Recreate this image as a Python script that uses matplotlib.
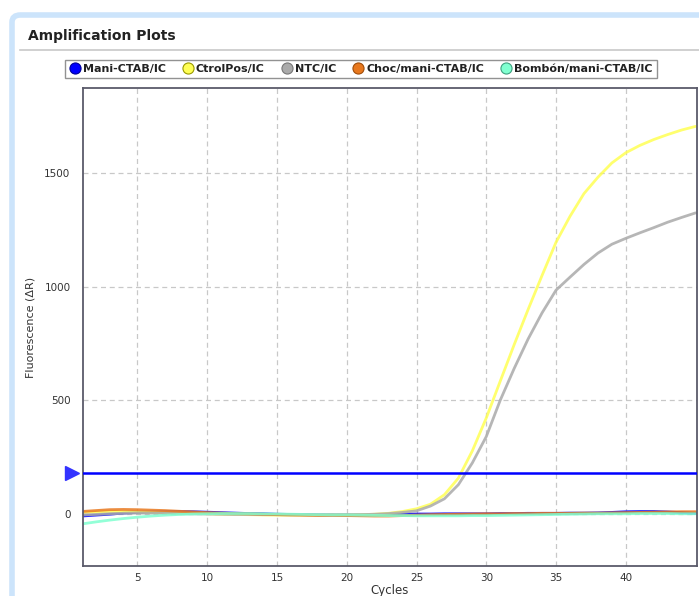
import numpy as np
import matplotlib
matplotlib.use('Agg')
import matplotlib.pyplot as plt
from matplotlib.lines import Line2D
from matplotlib.patches import FancyBboxPatch
import matplotlib.transforms as mtransforms

cycles = list(range(1, 46))

mani = [-10, -6, -2, 3, 6, 8, 9, 10, 9, 7, 5, 3, 1, 0, -2, -3, -4, -5, -5, -5, -5, -4, -3, -2, -1,
        -1, 0, 0, 0, 0, 1, 1, 2, 2, 2, 3, 3, 4, 6, 9, 10, 10, 8, 5, 2]
ctrolpos = [5, 8, 10, 10, 8, 6, 5, 4, 2, 0, -2, -3, -4, -5, -6, -6, -6, -6, -5, -5, -4, -2, 2, 10, 22,
            42, 84, 157, 277, 422, 584, 745, 900, 1050, 1196, 1310, 1410, 1482, 1545, 1590, 1622, 1648,
            1670, 1690, 1706]
ntc = [-5, -3, 0, 2, 3, 3, 2, 1, 0, -1, -2, -3, -3, -4, -4, -5, -5, -5, -5, -5, -4, -2, 1, 6, 13,
       34, 66, 128, 224, 340, 500, 640, 770, 885, 985, 1042, 1098, 1148, 1187, 1213, 1237, 1260,
       1284, 1305, 1325]
choc = [10, 14, 18, 19, 18, 16, 14, 11, 8, 5, 3, 1, 0, -2, -4, -5, -6, -7, -7, -8, -9, -10, -10, -8, -6,
        -4, -3, -2, -1, 0, 0, 1, 1, 2, 2, 2, 3, 3, 4, 5, 6, 7, 8, 9, 9]
bombon = [-45, -36, -28, -21, -15, -10, -6, -3, -1, 0, 1, 1, 1, 0, -1, -2, -3, -4, -5, -5, -6, -7, -8,
          -8, -9, -9, -9, -9, -8, -8, -7, -6, -5, -4, -3, -2, -1, 0, 0, 0, 1, 1, 1, 0, 0]
threshold = 180

names = ['Mani-CTAB/IC', 'CtrolPos/IC', 'NTC/IC', 'Choc/mani-CTAB/IC', 'Bombón/mani-CTAB/IC']
colors = ['#0000ff', '#ffff55', '#aaaaaa', '#e8781e', '#80ffd0']
edges = ['#000099', '#999900', '#777777', '#a04d0a', '#40a080']
series = [mani, ctrolpos, ntc, choc, bombon]

fig = plt.figure(figsize=(6.99, 5.96), dpi=100)

# panel frame
frame = FancyBboxPatch((12 / 699, -0.05), 1.1, 1 - 15 / 596 + 0.05,
                       boxstyle='round,pad=0,rounding_size=0.012', transform=fig.transFigure,
                       facecolor='none', edgecolor='#cce4fb', lw=4, zorder=-1)
fig.patches.append(frame)
fig.text(28 / 699, 1 - 36 / 596, 'Amplification Plots', fontsize=10, fontweight='bold',
         color='#222222', va='center', ha='left')
fig.add_artist(Line2D([20 / 699, 1], [1 - 50 / 596] * 2, transform=fig.transFigure,
                      color='#c8c8c8', lw=1.2))

ax = fig.add_axes([83 / 699, 30 / 596, 614 / 699, 478 / 596])
for s, c in zip(series, colors):
    ax.plot(cycles, s, color=c, lw=2, alpha=0.85, solid_capstyle='round')
ax.axhline(threshold, color='#0000ff', lw=1.8, zorder=5)
trans = mtransforms.blended_transform_factory(ax.transAxes, ax.transData)
ax.plot([-0.018], [threshold], marker='>', ms=10, color='#3333ff', transform=trans,
        clip_on=False, zorder=6)

ax.set_xlim(1.1, 45.1)
ax.set_ylim(-230, 1875)
ax.set_xticks([5, 10, 15, 20, 25, 30, 35, 40])
ax.set_yticks([0, 500, 1000, 1500])
ax.grid(True, ls=(0, (4, 3)), lw=0.9, color='#c8c8c8')
ax.tick_params(length=0, labelsize=7.5, colors='#333333')
ax.tick_params(axis='y', pad=9)
ax.tick_params(axis='x', pad=5)
for sp in ax.spines.values():
    sp.set_color('#5a5a6a')
    sp.set_linewidth(1.3)
ax.set_xlabel('Cycles', fontsize=8.5, color='#333333', labelpad=1)
ax.set_ylabel('Fluorescence (ΔR)', fontsize=8, color='#333333', labelpad=6)

handles = [Line2D([], [], ls='none', marker='o', ms=8, markerfacecolor=c, markeredgecolor=e,
                  markeredgewidth=0.8) for c, e in zip(colors, edges)]
leg = fig.legend(handles, names, loc='center', bbox_to_anchor=(361 / 699, 1 - 69 / 596), ncol=5,
                 fontsize=8, frameon=True, fancybox=False, edgecolor='#777777',
                 handletextpad=0.2, columnspacing=1.5, handlelength=1.0, borderpad=0.4)
leg.get_frame().set_linewidth(1.0)
for t in leg.get_texts():
    t.set_fontweight('semibold')
    t.set_color('#222222')

fig.savefig('out.png', dpi=100)
